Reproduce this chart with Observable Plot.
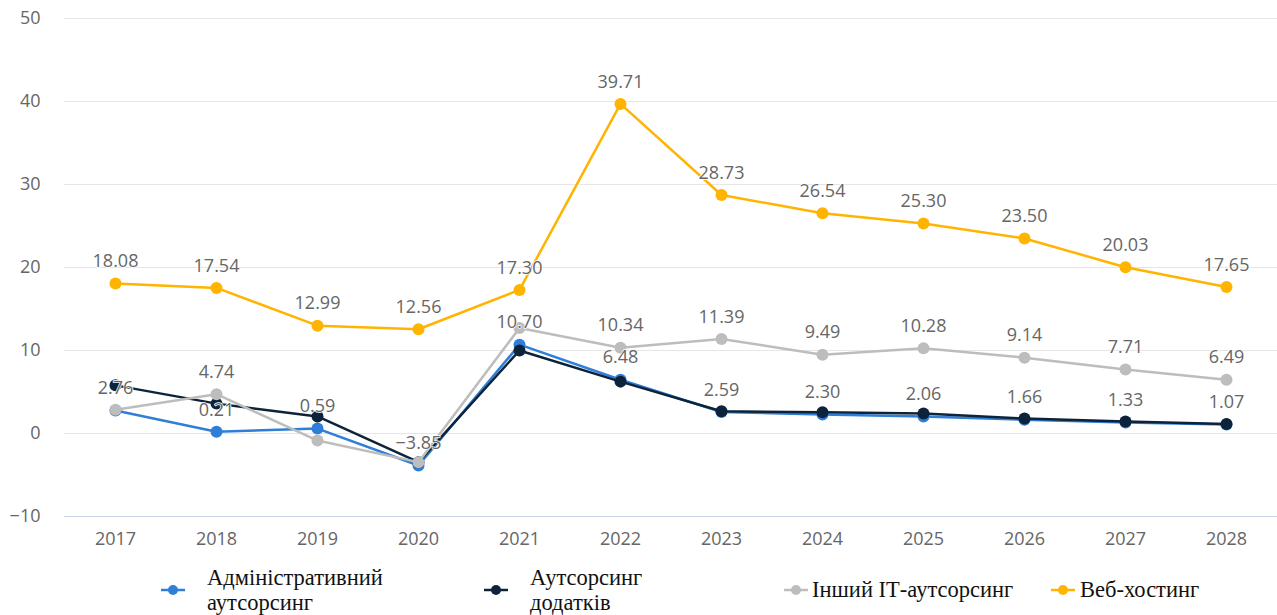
<!DOCTYPE html>
<html>
<head>
<meta charset="utf-8">
<script src="https://cdn.jsdelivr.net/npm/d3@7"></script>
<script src="https://cdn.jsdelivr.net/npm/@observablehq/plot@0.6"></script>
<style>
  body { margin: 0; background: #fff; }
  #chart { position: relative; width: 1277px; }
  #legend { position: relative; width: 1277px; height: 60px; font-family: "Liberation Serif", "Times New Roman", serif; font-size: 22.5px; color: #111; }
  .item { position: absolute; line-height: 25px; white-space: nowrap; }
  .sym { position: absolute; }
</style>
</head>
<body>
<div id="chart"></div>
<div id="legend"></div>
<script>
const years = ["2017","2018","2019","2020","2021","2022","2023","2024","2025","2026","2027","2028"];
const seriesNames = ["Адміністративний аутсорсинг", "Аутсорсинг додатків", "Інший ІТ-аутсорсинг", "Веб-хостинг"];
const seriesColors = ["#2f7ed8", "#0d233a", "#bdbdbd", "#ffb400"];
const adminValues = [2.76, 0.21, 0.59, -3.85, 10.70, 6.48, 2.59, 2.30, 2.06, 1.66, 1.33, 1.07];
const appValues = [5.8, 3.6, 2.05, -3.45, 10.0, 6.25, 2.68, 2.55, 2.4, 1.8, 1.45, 1.15];
const otherValues = [2.85, 4.74, -0.85, -3.45, 12.7, 10.34, 11.39, 9.49, 10.28, 9.14, 7.71, 6.49];
const hostingValues = [18.08, 17.54, 12.99, 12.56, 17.30, 39.71, 28.73, 26.54, 25.30, 23.50, 20.03, 17.65];
const yTicks = [-10, 0, 10, 20, 30, 40, 50];
// which years carry a visible data label, per series
const adminLabelYears = years;
const appLabelYears = [];
const otherLabelYears = ["2018","2022","2023","2024","2025","2026","2027","2028"];
const hostingLabelYears = years;

const allValues = [adminValues, appValues, otherValues, hostingValues];
const labelYears = [adminLabelYears, appLabelYears, otherLabelYears, hostingLabelYears];

const data = [];
allValues.forEach((vals, si) => {
  vals.forEach((v, i) => data.push({series: seriesNames[si], si, year: years[i], value: v,
    label: labelYears[si].includes(years[i])}));
});

const fmt = d3.format(".2f");
const marks = [
  Plot.ruleY(yTicks.filter(t => t !== -10), {stroke: "#e6e6e6", strokeWidth: 1}),
  Plot.ruleY([-10], {stroke: "#ccd6eb", strokeWidth: 1}),
  Plot.axisY({ticks: yTicks, tickSize: 0, tickPadding: 24, fontSize: 18, fill: "#666", label: null}),
  Plot.axisX({tickSize: 0, tickPadding: 16, fontSize: 18, fill: "#666", label: null})
];
seriesNames.forEach((name, si) => {
  const d = data.filter(r => r.si === si);
  marks.push(Plot.line(d, {x: "year", y: "value", stroke: seriesColors[si], strokeWidth: 2.5}));
  marks.push(Plot.dot(d, {x: "year", y: "value", fill: seriesColors[si], r: 6}));
});
seriesNames.forEach((name, si) => {
  const d = data.filter(r => r.si === si && r.label);
  marks.push(Plot.text(d, {x: "year", y: "value", text: r => fmt(r.value), dy: -22, fontSize: 18,
    fill: "#666", stroke: "white", strokeWidth: 1.5, paintOrder: "stroke"}));
});

const chart = Plot.plot({
  width: 1277,
  height: 555,
  marginLeft: 64,
  marginRight: 0,
  marginTop: 18,
  marginBottom: 39,
  style: {fontFamily: "'Open Sans', 'Noto Sans', sans-serif", background: "white"},
  x: {type: "point", domain: years, padding: 0.5},
  y: {domain: [-10, 50]},
  marks
});
document.getElementById("chart").appendChild(chart);

// legend
const legendPos = [
  {sym: 173, text: 207, lines: ["Адміністративний", "аутсорсинг"]},
  {sym: 496, text: 530, lines: ["Аутсорсинг", "додатків"]},
  {sym: 796, text: 812, lines: ["Інший ІТ-аутсорсинг"]},
  {sym: 1063, text: 1080, lines: ["Веб-хостинг"]}
];
const legend = document.getElementById("legend");
legendPos.forEach((p, i) => {
  const s = document.createElementNS("http://www.w3.org/2000/svg", "svg");
  s.setAttribute("class", "sym");
  s.setAttribute("width", 26); s.setAttribute("height", 12);
  s.style.left = (p.sym - 13) + "px"; s.style.top = (35 - 6) + "px";
  s.innerHTML = `<line x1="1" y1="6" x2="25" y2="6" stroke="${seriesColors[i]}" stroke-width="2.5"/><circle cx="13" cy="6" r="5" fill="${seriesColors[i]}"/>`;
  legend.appendChild(s);
  const t = document.createElement("div");
  t.className = "item";
  t.style.left = p.text + "px";
  t.style.top = (p.lines.length === 2 ? 10 : 22) + "px";
  t.innerHTML = p.lines.join("<br>");
  legend.appendChild(t);
});
</script>
</body>
</html>
